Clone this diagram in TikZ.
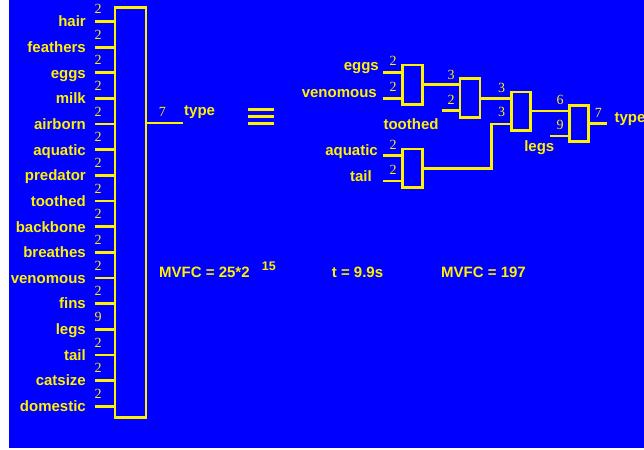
\documentclass[tikz,border=0pt]{standalone}
\usepackage{fontspec}
\setmainfont{Liberation Sans}
\newfontfamily\numfont{Liberation Serif}
\begin{document}
\begin{tikzpicture}[x=1pt,y=-1pt,
  wire/.style={draw=yellow,line width=2.8pt},
  gate/.style={draw=yellow,line width=2.8pt,fill=blue,inner sep=0pt,rectangle},
  lbl/.style={text=yellow,inner sep=0pt,font=\bfseries\fontsize{15}{16}\selectfont},
  num/.style={text=yellow,inner sep=0pt,anchor=base,font=\numfont\fontsize{14}{14}\selectfont}]
\useasboundingbox (0,0) rectangle (644,449);
\fill[white] (0,0) rectangle (644,449);
\fill[blue] (9,0) rectangle (644,448);
% big box
\node[gate,minimum width=31pt,minimum height=410pt] (big) at (130.5,212.5) {};
\foreach \nm/\n [count=\i from 0] in {hair/2,feathers/2,eggs/2,milk/2,airborn/2,aquatic/2,predator/2,toothed/2,backbone/2,breathes/2,venomous/2,fins/2,legs/9,tail/2,catsize/2,domestic/2}{
  \pgfmathsetmacro\yy{21.5+25.65*\i}
  \coordinate (in\i) at (95,\yy);
  \draw[wire] (in\i) -- (in\i -| big.west);
  \node[lbl,anchor=base east] (l\i) at (86,\yy+5.3) {\nm};
  \node[num] (n\i) at (98,\yy-7.8) {\n};
}
\coordinate (bout) at (182.5,123);
\draw[wire] (big.east |- bout) -- (bout);
\node[num] (bo7) at (162.3,116.7) {7};
\node[lbl,anchor=base west] (btype) at (184,116) {type};
% equivalence
\coordinate (eq1) at (248,109.7); \coordinate (eq1e) at (274,109.7);
\coordinate (eq2) at (248,116.7); \coordinate (eq2e) at (274,116.7);
\coordinate (eq3) at (248,123.3); \coordinate (eq3e) at (274,123.3);
\draw[yellow,line width=2.6pt] (eq1) -- (eq1e) (eq2) -- (eq2e) (eq3) -- (eq3e);
% tree gates
\node[gate,minimum width=20.5pt,minimum height=39.3pt] (A) at (412.5,84.7) {};
\node[gate,minimum width=20pt,minimum height=39.4pt] (B) at (470,98) {};
\node[gate,minimum width=19pt,minimum height=38.7pt] (C) at (521.3,111.3) {};
\node[gate,minimum width=20.5pt,minimum height=38.7pt] (D) at (412.5,168.3) {};
\node[gate,minimum width=19pt,minimum height=36.4pt] (E) at (578.8,123.5) {};
% inputs of A and D
\coordinate (ia1) at (383.3,72.3); \coordinate (ia2) at (383.3,98.3);
\coordinate (id1) at (383.3,155.7); \coordinate (id2) at (383.3,181);
\draw[wire] (ia1) -- (ia1 -| A.west);
\draw[wire] (ia2) -- (ia2 -| A.west);
\draw[wire] (id1) -- (id1 -| D.west);
\draw[wire] (id2) -- (id2 -| D.west);
\node[lbl,anchor=base east] (teggs) at (379,71) {eggs};
\node[lbl,anchor=base east] (tven) at (377,98) {venomous};
\node[lbl,anchor=base east] (taq) at (378,155.5) {aquatic};
\node[lbl,anchor=base east] (ttail) at (372,181) {tail};
\node[num] (na1) at (393,66) {2};
\node[num] (na2) at (393,91.7) {2};
\node[num] (nd1) at (393,149.3) {2};
\node[num] (nd2) at (393,175) {2};
% A -> B
\draw[wire] (A.east) -- (A.east -| B.west);
\coordinate (ib2) at (441.7,110.7);
\draw[wire] (ib2) -- (ib2 -| B.west);
\node[num] (nb1) at (451,80) {3};
\node[num] (nb2) at (451,104.3) {2};
% B -> C
\coordinate (cb) at (512,98.3);
\draw[wire] (B.east |- cb) -- (C.west |- cb);
% D -> C
\coordinate (dc) at (491.7,124);
\draw[wire] (D.east) -| (dc) -- (dc -| C.west);
\node[num] (nc1) at (501.7,92.7) {3};
\node[num] (nc2) at (501.7,116.7) {3};
\node[lbl,anchor=base] (ttooth) at (411,130) {toothed};
% C -> E
\coordinate (ce) at (550,111);
\draw[wire] (C.east |- ce) -- (E.west |- ce);
\coordinate (ie2) at (550,136);
\draw[wire] (ie2) -- (ie2 -| E.west);
\node[num] (ne1) at (560,104.3) {6};
\node[num] (ne2) at (560,130) {9};
\node[lbl,anchor=base] (tlegs) at (539.3,151) {legs};
\coordinate (eout) at (607.3,123.3);
\draw[wire] (E.east |- eout) -- (eout);
\node[num] (ne7) at (598.3,117.7) {7};
\node[lbl,anchor=base west] (etype) at (614.3,123) {type};
% bottom texts
\node[lbl,anchor=base west] (mv1) at (159,277.3) {MVFC = 25*2};
\node[lbl,anchor=base west,font=\bfseries\fontsize{12.5}{13}\selectfont] (mvsup) at (261.7,270.7) {15};
\node[lbl,anchor=base west] (tt) at (331.7,277.3) {t = 9.9s};
\node[lbl,anchor=base west] (mv2) at (441,277.3) {MVFC = 197};
\end{tikzpicture}
\end{document}
